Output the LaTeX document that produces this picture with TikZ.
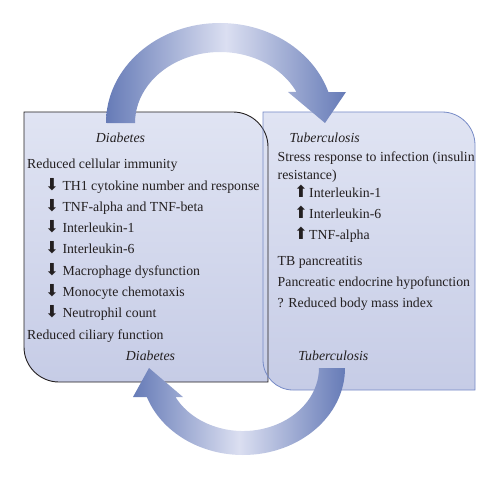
\documentclass[tikz,border=0pt]{standalone}
\usepackage{fontspec}
\setmainfont{Liberation Serif}
\newfontfamily\arrowfont{DejaVu Sans}
\usetikzlibrary{positioning}

\definecolor{boxtop}{RGB}{224,228,243}
\definecolor{boxbot}{RGB}{198,204,230}
\definecolor{tbline}{RGB}{118,138,198}
\definecolor{arrdark}{RGB}{102,123,183}
\definecolor{arrlight}{RGB}{219,223,241}
\definecolor{txt}{RGB}{35,31,32}

\newcommand{\dnarr}{\makebox[17.3pt][l]{\arrowfont\fontsize{16.5}{16}\selectfont ⬇}}
\newcommand{\uparr}{\makebox[15pt][l]{\arrowfont\fontsize{16.5}{16}\selectfont ⬆}}

\begin{document}
\begin{tikzpicture}[x=1pt,y=1pt]

\tikzset{
    txtline/.style={anchor=base west, inner sep=0pt, text=txt,
        font=\fontsize{13.8}{16}\selectfont},
    head/.style={anchor=base, inner sep=0pt, text=txt,
        font=\fontsize{13.8}{16}\selectfont\itshape},
    boxfill/.style={top color=boxtop, bottom color=boxbot},
    bigarrow/.style={left color=arrdark, right color=arrdark, middle color=arrlight}
}

\useasboundingbox (0,0) rectangle (500,480);

% boxes
\shade[boxfill] (24,368) -- (233,368) arc (90:0:35) -- (268,98) -- (59,98) arc (270:180:35) -- cycle;
\shade[boxfill] (263,368) -- (442,368) arc (90:0:33) -- (475,90) -- (293,90) arc (270:180:30) -- cycle;
\draw[txt, line width=0.9pt] (24,368) -- (233,368) arc (90:0:35) -- (268,98) -- (59,98) arc (270:180:35) -- cycle;
\draw[tbline, line width=0.8pt] (263,368) -- (442,368) arc (90:0:33) -- (475,90) -- (293,90) arc (270:180:30) -- cycle;

% diabetes
\node[head] (dia) at (120.5,337.7) {Diabetes};
\node[txtline] (cell) at (27,311.7) {Reduced cellular immunity};
\node[txtline] (th1) at (45,290) {\dnarr TH1 cytokine number and response};
\node[txtline] (tnf) at (45,268.7) {\dnarr TNF-alpha and TNF-beta};
\node[txtline] (il1) at (45,247.4) {\dnarr Interleukin-1};
\node[txtline] (il6) at (45,226.1) {\dnarr Interleukin-6};
\node[txtline] (mac) at (45,204.8) {\dnarr Macrophage dysfunction};
\node[txtline] (mono) at (45,183.5) {\dnarr Monocyte chemotaxis};
\node[txtline] (neut) at (45,162.2) {\dnarr Neutrophil count};
\node[txtline] (cil) at (27,140.7) {Reduced ciliary function};
\node[head] (dia2) at (150.5,120) {Diabetes};

% tuberculosis
\node[head] (tb) at (324.7,337.7) {Tuberculosis};
\node[txtline] (stress) at (277.5,319) {Stress response to infection (insulin};
\node[txtline] (resist) at (277.5,301) {resistance)};
\node[txtline] (tbil1) at (294,282.3) {\uparr Interleukin-1};
\node[txtline] (tbil6) at (294,261.7) {\uparr Interleukin-6};
\node[txtline] (tbtnf) at (294,241) {\uparr TNF-alpha};
\node[txtline] (panc) at (277.5,215) {TB pancreatitis};
\node[txtline] (endo) at (277.5,193.3) {Pancreatic endocrine hypofunction};
\node[txtline] (bmi) at (277.5,172.3) {? Reduced body mass index};
\node[head] (tb2) at (333.3,119.3) {Tuberculosis};

% curved arrows
\shade[bigarrow] (106,357) arc[start angle=180, end angle=18, x radius=114, y radius=100]
    -- (346,388) -- (325,357) -- (288,388)
    -- (296.4,388.1) arc[start angle=26, end angle=180, x radius=85, y radius=71] -- cycle;
\shade[bigarrow] (345,112) arc[start angle=0, end angle=-160.5, x radius=102, y radius=87]
    -- (133,83) -- (149,112) -- (183,83)
    -- (175.5,83) arc[start angle=-152.6, end angle=0, x radius=76, y radius=63] -- cycle;

\end{tikzpicture}
\end{document}
